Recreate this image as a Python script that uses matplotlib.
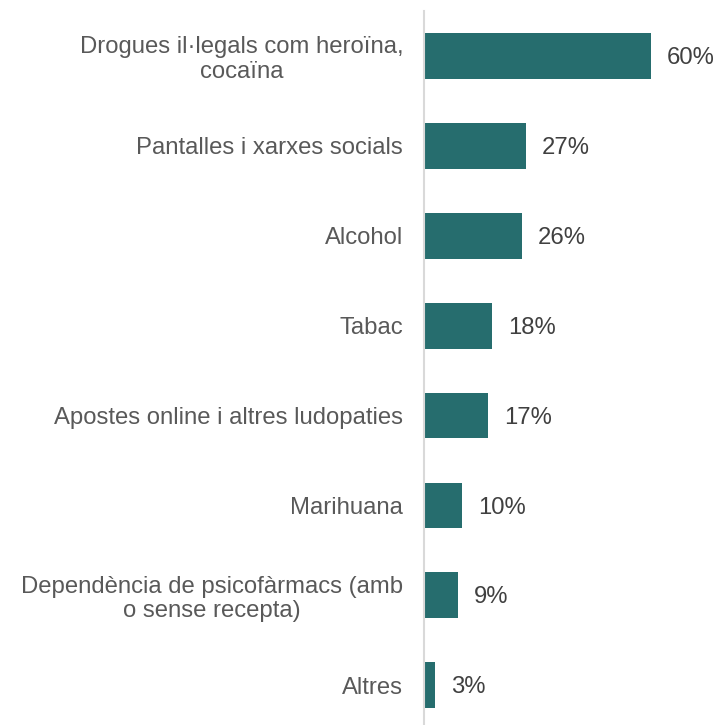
import numpy as np
import matplotlib.pyplot as plt

categories = ["Drogues il·legals com heroïna,\ncocaïna",
              "Pantalles i xarxes socials",
              "Alcohol",
              "Tabac",
              "Apostes online i altres ludopaties",
              "Marihuana",
              "Dependència de psicofàrmacs (amb\no sense recepta)",
              "Altres"]
values = [60, 27, 26, 18, 17, 10, 9, 3]

plt.rcParams['font.family'] = ['Liberation Sans', 'DejaVu Sans']

fig = plt.figure(figsize=(7.24, 7.25), dpi=100)
W, H = 724, 725
ax = fig.add_axes([424/W, 0, 1 - 424/W, 1 - 11/H])

y = np.arange(len(categories))
ax.barh(y, values, height=0.51, color="#266d6e")

for yi, v in zip(y, values):
    ax.annotate(f"{v}%", (v, yi), xytext=(11.5, -1.5), textcoords="offset points",
                va="center", ha="left", fontsize=17.2, color="#404040")

ax.set_xlim(0, 79.4)
ax.set_ylim(-0.5 + (725 - 11)/89.9, -0.5)
ax.set_yticks(y)
ax.set_yticklabels(categories, fontsize=17.2, color="#595959")
ax.tick_params(axis="y", length=0, pad=15)
for lab in ax.get_yticklabels():
    lab.set_multialignment("center")
    lab.set_linespacing(1.15)
ax.set_xticks([])
for s in ["top", "right", "bottom"]:
    ax.spines[s].set_visible(False)
ax.spines["left"].set_color("#d9d9d9")
ax.spines["left"].set_linewidth(1.5)

fig.savefig("out.png", dpi=100)
